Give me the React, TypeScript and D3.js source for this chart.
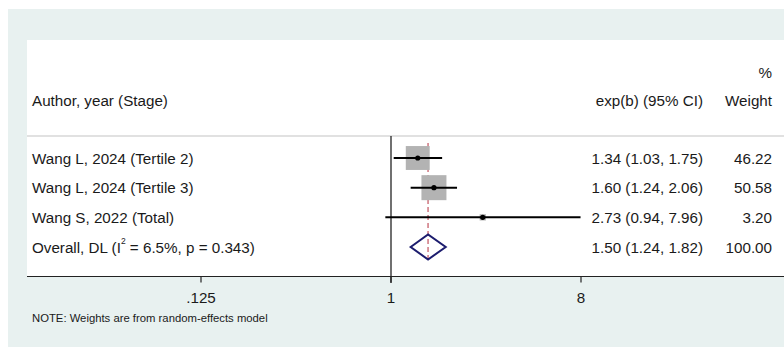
import React from "react";
import * as d3 from "d3";

// Study rows
const studies = ["Wang L, 2024 (Tertile 2)", "Wang L, 2024 (Tertile 3)", "Wang S, 2022 (Total)"];
const estimates = [1.34, 1.6, 2.73];
const lowers = [1.03, 1.24, 0.94];
const uppers = [1.75, 2.06, 7.96];
const weights = [46.22, 50.58, 3.2];

// Pooled estimate
const overallEst = 1.5;
const overallLo = 1.24;
const overallHi = 1.82;
const overallWeight = 100.0;

const xTicks = [0.125, 1, 8];
const tickLabels = [".125", "1", "8"];

const W = 784;
const H = 347;
const FONT = "Liberation Sans, Arial, sans-serif";

export default function App() {
  const x = d3.scaleLog().base(2).domain([0.125, 8]).range([201, 581]);
  const rowY = d3.scaleLinear().domain([0, 3]).range([158, 247]);
  const boxSide = d3.scaleSqrt().domain([0, 50.58]).range([0, 25]);

  const fmt = d3.format(".2f");
  const ciText = (e: number, l: number, u: number) => `${fmt(e)} (${fmt(l)}, ${fmt(u)})`;

  const axisY = 276.5;
  const headerLineY = 136;
  const oy = rowY(3);
  const diamond = [
    [x(overallLo), oy],
    [x(overallEst), oy - 12.5],
    [x(overallHi), oy],
    [x(overallEst), oy + 12.5],
  ];

  const textStyle = { fontFamily: FONT, fontSize: 15.2, fill: "#1a1a1a" } as const;

  return (
    <svg
      width={W}
      height={H}
      style={{ position: "absolute", left: 0, top: 0, display: "block" }}
    >
      <rect x={0} y={0} width={W} height={H} fill="#ffffff" />
      <rect x={8} y={9} width={W - 8} height={H - 9} fill="#e8f1f0" />
      <rect x={27} y={40} width={W - 27} height={axisY - 40} fill="#ffffff" />

      {/* column headers */}
      <text x={772} y={72} textAnchor="end" dominantBaseline="central" {...textStyle}>%</text>
      <text x={32} y={100} dominantBaseline="central" {...textStyle}>Author, year (Stage)</text>
      <text x={703} y={100} textAnchor="end" dominantBaseline="central" {...textStyle}>exp(b) (95% CI)</text>
      <text x={772} y={100} textAnchor="end" dominantBaseline="central" {...textStyle}>Weight</text>

      <line x1={27} x2={W} y1={headerLineY} y2={headerLineY} stroke="#c4c4c4" strokeWidth={1.2} />

      {/* no-effect line */}
      <line x1={x(1)} x2={x(1)} y1={headerLineY} y2={283} stroke="#111" strokeWidth={1.2} />

      {/* pooled estimate reference */}
      <line
        x1={x(overallEst)}
        x2={x(overallEst)}
        y1={143}
        y2={262}
        stroke="#c8606c"
        strokeWidth={1.3}
        strokeDasharray="5,3"
      />

      {studies.map((s, i) => {
        const y = rowY(i);
        const side = boxSide(weights[i]);
        return (
          <g key={s}>
            <rect
              x={x(estimates[i]) - side / 2}
              y={y - side / 2}
              width={side}
              height={side}
              fill="#b3b3b3"
            />
            <line x1={x(lowers[i])} x2={x(uppers[i])} y1={y} y2={y} stroke="#000" strokeWidth={2} />
            <circle cx={x(estimates[i])} cy={y} r={2.6} fill="#000" />
            <text x={32} y={y} dominantBaseline="central" {...textStyle}>{s}</text>
            <text x={703} y={y} textAnchor="end" dominantBaseline="central" {...textStyle}>
              {ciText(estimates[i], lowers[i], uppers[i])}
            </text>
            <text x={772} y={y} textAnchor="end" dominantBaseline="central" {...textStyle}>
              {fmt(weights[i])}
            </text>
          </g>
        );
      })}

      {/* overall row */}
      <polygon
        points={diamond.map((p) => p.join(",")).join(" ")}
        fill="none"
        stroke="#1c1c6e"
        strokeWidth={2}
      />
      <text x={32} y={oy} dominantBaseline="central" {...textStyle}>
        Overall, DL (I
        <tspan fontSize={8.5} dy={-6}>2</tspan>
        <tspan dy={6}> = 6.5%, p = 0.343)</tspan>
      </text>
      <text x={703} y={oy} textAnchor="end" dominantBaseline="central" {...textStyle}>
        {ciText(overallEst, overallLo, overallHi)}
      </text>
      <text x={772} y={oy} textAnchor="end" dominantBaseline="central" {...textStyle}>
        {fmt(overallWeight)}
      </text>

      {/* x axis */}
      <line x1={27} x2={W} y1={axisY} y2={axisY} stroke="#222" strokeWidth={1.2} />
      {xTicks.map((t, i) => (
        <g key={t}>
          <line x1={x(t)} x2={x(t)} y1={axisY} y2={axisY + 6} stroke="#222" strokeWidth={1.2} />
          <text x={x(t)} y={297} textAnchor="middle" dominantBaseline="central" {...textStyle}>
            {tickLabels[i]}
          </text>
        </g>
      ))}

      <text x={32} y={318} dominantBaseline="central" fontFamily={FONT} fontSize={11.3} fill="#1a1a1a">
        NOTE: Weights are from random-effects model
      </text>
    </svg>
  );
}
